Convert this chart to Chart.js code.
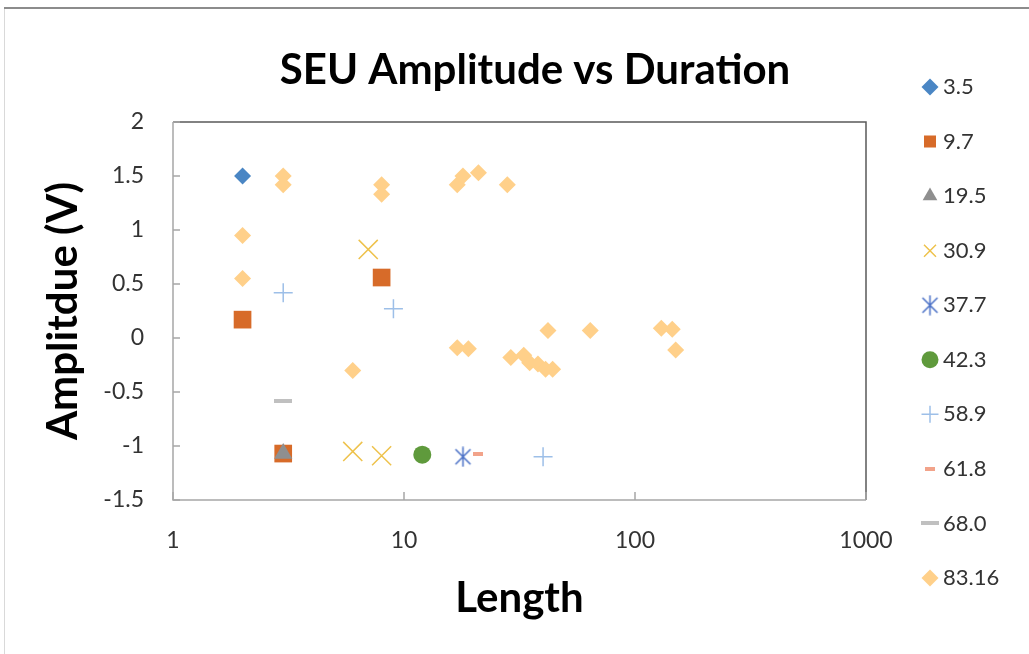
<!DOCTYPE html>
<html>
<head>
<meta charset="utf-8">
<script src="https://cdn.jsdelivr.net/npm/chart.js@4.4.1/dist/chart.umd.min.js"></script>
<style>
html, body { margin: 0; padding: 0; background: #ffffff; }
canvas { display: block; }
</style>
</head>
<body>
<canvas id="c" width="1029" height="654"></canvas>
<script>
// ---------- data ----------
const seriesNames = ['3.5', '9.7', '19.5', '30.9', '37.7', '42.3', '58.9', '61.8', '68.0', '83.16'];

const len_3_5 = [2];
const amp_3_5 = [1.5];

const len_9_7 = [2, 8, 3];
const amp_9_7 = [0.17, 0.56, -1.07];

const len_19_5 = [3];
const amp_19_5 = [-1.07];

const len_30_9 = [7, 6, 8];
const amp_30_9 = [0.82, -1.05, -1.09];

const len_37_7 = [18];
const amp_37_7 = [-1.1];

const len_42_3 = [12];
const amp_42_3 = [-1.08];

const len_58_9 = [3, 9, 40];
const amp_58_9 = [0.42, 0.27, -1.1];

const len_61_8 = [21];
const amp_61_8 = [-1.07];

const len_68_0 = [3];
const amp_68_0 = [-0.58];

const len_83_16 = [2, 2, 3, 3, 8, 8, 17, 18, 21, 28, 6, 17, 19, 29, 33, 35, 38, 41, 44, 42, 64, 130, 145, 150];
const amp_83_16 = [0.95, 0.55, 1.5, 1.42, 1.42, 1.33, 1.42, 1.5, 1.53, 1.42, -0.3, -0.09, -0.1, -0.18, -0.16, -0.23, -0.24, -0.29, -0.29, 0.07, 0.07, 0.09, 0.08, -0.11];

const xTickValues = [1, 10, 100, 1000];
const xTickLabels = ['1', '10', '100', '1000'];
const yTickValues = [-1.5, -1, -0.5, 0, 0.5, 1, 1.5, 2];
const yTickLabels = ['-1.5', '-1', '-0.5', '0', '0.5', '1', '1.5', '2'];

const titleText = 'SEU Amplitude vs Duration';
const xTitleText = 'Length';
const yTitleText = 'Amplitdue (V)';

// ---------- styling ----------
const FONT = 'Lato, "Open Sans", sans-serif';
const TICK_FONT = { family: FONT, size: 23 };
const BIG_FONT = { family: FONT, size: 42, weight: 'bold', lineHeight: 1.2 };

function toPoints(xs, ys) { return xs.map((x, i) => ({ x: x, y: ys[i] })); }

function makeAsterisk(color) {
  const c = document.createElement('canvas');
  c.width = 21; c.height = 21;
  const g = c.getContext('2d');
  g.strokeStyle = color; g.lineWidth = 1.5;
  g.beginPath();
  g.moveTo(3, 3); g.lineTo(18, 18);
  g.moveTo(18, 3); g.lineTo(3, 18);
  g.moveTo(10.5, 0.5); g.lineTo(10.5, 20.5);
  g.stroke();
  return c;
}
function makeDash(w, h, color) {
  const c = document.createElement('canvas');
  c.width = w; c.height = h;
  const g = c.getContext('2d');
  g.fillStyle = color; g.fillRect(0, 0, w, h);
  return c;
}

const styles = [
  { pointStyle: 'rectRot', radius: 8.5, bg: '#4a86c4', bc: '#4a86c4', bw: 0 },
  { pointStyle: 'rect', radius: 12.5, bg: '#d76b29', bc: '#d76b29', bw: 0 },
  { pointStyle: 'triangle', radius: 10.5, bg: '#8f8f8f', bc: '#8f8f8f', bw: 0 },
  { pointStyle: 'crossRot', radius: 13.5, bg: '#eec24c', bc: '#eec24c', bw: 1.5 },
  { pointStyle: makeAsterisk('#4a70c6'), radius: 10, bg: '#4a70c6', bc: '#4a70c6', bw: 1.5 },
  { pointStyle: 'circle', radius: 9, bg: '#5f9a3c', bc: '#5f9a3c', bw: 0 },
  { pointStyle: 'cross', radius: 9.5, bg: '#9dbfe8', bc: '#9dbfe8', bw: 1.5 },
  { pointStyle: makeDash(10, 4, '#f2a38a'), radius: 5, bg: '#f2a38a', bc: '#f2a38a', bw: 0 },
  { pointStyle: makeDash(18, 4, '#c0c0c0'), radius: 9, bg: '#c0c0c0', bc: '#c0c0c0', bw: 0 },
  { pointStyle: 'rectRot', radius: 8.5, bg: '#ffd08a', bc: '#ffd08a', bw: 0 }
];

const seriesData = [
  toPoints(len_3_5, amp_3_5),
  toPoints(len_9_7, amp_9_7),
  toPoints(len_19_5, amp_19_5),
  toPoints(len_30_9, amp_30_9),
  toPoints(len_37_7, amp_37_7),
  toPoints(len_42_3, amp_42_3),
  toPoints(len_58_9, amp_58_9),
  toPoints(len_61_8, amp_61_8),
  toPoints(len_68_0, amp_68_0),
  toPoints(len_83_16, amp_83_16)
];

const datasets = seriesNames.map((name, i) => ({
  label: name,
  data: seriesData[i],
  showLine: false,
  order: -i,
  pointStyle: styles[i].pointStyle,
  pointRadius: styles[i].radius,
  pointHoverRadius: styles[i].radius,
  backgroundColor: styles[i].bg,
  borderColor: styles[i].bc,
  borderWidth: styles[i].bw,
  pointBorderWidth: styles[i].bw
}));

// layout targets (pixels)
const LEGEND_W = 163;       // legend box width -> plot right edge at 866
const LEGEND_ITEM_X = 928;  // left of legend items
const TITLE_SHIFT = 15.5;   // Excel centres the title a bit right of the plot centre

const layoutPlugin = {
  id: 'layoutPlugin',
  beforeLayout(chart) {
    const lg = chart.legend;
    if (lg && !lg._fixedW) {
      const f = lg.fit;
      lg.fit = function () { f.call(this); this.width = LEGEND_W; };
      lg._fixedW = true;
    }
  },
  afterLayout(chart) {
    if (chart.titleBlock) {
      chart.titleBlock.left += TITLE_SHIFT;
      chart.titleBlock.right += TITLE_SHIFT;
    }
    const lg = chart.legend;
    if (lg) {
      const pad = lg.options.labels.padding;
      const dx = LEGEND_ITEM_X - (lg.left + pad);
      lg.left += dx; lg.right += dx;
    }
  },
  beforeDraw(chart) {
    const ctx = chart.ctx;
    ctx.save();
    ctx.fillStyle = '#ffffff';
    ctx.fillRect(0, 0, chart.width, chart.height);
    ctx.strokeStyle = '#d9d9d9'; ctx.lineWidth = 1;
    ctx.beginPath(); ctx.moveTo(4.5, 8); ctx.lineTo(4.5, chart.height); ctx.stroke();
    ctx.strokeStyle = '#8c8c8c'; ctx.lineWidth = 2;
    ctx.beginPath(); ctx.moveTo(4, 8); ctx.lineTo(chart.width, 8); ctx.stroke();
    ctx.restore();
  },
  beforeDatasetsDraw(chart) {
    const ctx = chart.ctx;
    const a = chart.chartArea;
    const xs = chart.scales.x, ys = chart.scales.y;
    ctx.save();
    ctx.lineWidth = 1.5;
    ctx.strokeStyle = '#5a5a5a';
    ctx.beginPath(); ctx.moveTo(a.left, a.top); ctx.lineTo(a.right, a.top); ctx.lineTo(a.right, a.bottom); ctx.stroke();
    ctx.strokeStyle = '#a6a6a6';
    ctx.beginPath(); ctx.moveTo(a.left, a.top); ctx.lineTo(a.left, a.bottom); ctx.lineTo(a.right, a.bottom); ctx.stroke();
    ctx.beginPath();
    yTickValues.forEach(v => { const p = ys.getPixelForValue(v); ctx.moveTo(a.left, p); ctx.lineTo(a.left + 7, p); });
    xTickValues.forEach(v => { const p = xs.getPixelForValue(v); ctx.moveTo(p, a.bottom); ctx.lineTo(p, a.bottom - 8); });
    ctx.stroke();
    ctx.restore();
  }
};

new Chart(document.getElementById('c'), {
  type: 'scatter',
  data: { datasets: datasets },
  plugins: [layoutPlugin],
  options: {
    responsive: false,
    animation: false,
    events: [],
    devicePixelRatio: 1,
    layout: { padding: { top: 11, left: 0, right: 0, bottom: 0 } },
    plugins: {
      tooltip: { enabled: false },
      title: {
        display: true,
        text: titleText,
        fullSize: false,
        color: '#000000',
        font: BIG_FONT,
        padding: { top: 33.8, bottom: 26.8 }
      },
      legend: {
        display: true,
        position: 'right',
        align: 'center',
        labels: {
          usePointStyle: true,
          boxWidth: 4,
          boxHeight: 12,
          padding: 32.56,
          color: '#333333',
          font: { family: FONT, size: 22 },
          sort: (a, b) => a.datasetIndex - b.datasetIndex
        }
      }
    },
    scales: {
      x: {
        type: 'logarithmic',
        position: 'bottom',
        min: 1,
        max: 1000,
        grid: { display: false, drawTicks: false },
        border: { display: false },
        afterBuildTicks: s => { s.ticks = xTickValues.map(v => ({ value: v, major: true })); },
        afterFit: s => { s.height = 154; },
        ticks: {
          autoSkip: false,
          maxRotation: 0,
          padding: 27,
          color: '#333333',
          font: TICK_FONT,
          callback: (v, i) => xTickLabels[i]
        },
        title: {
          display: true,
          text: xTitleText,
          color: '#000000',
          font: BIG_FONT,
          padding: { top: 0, bottom: 30 }
        }
      },
      y: {
        type: 'linear',
        position: 'left',
        min: -1.5,
        max: 2,
        grid: { display: false, drawTicks: false },
        border: { display: false },
        afterBuildTicks: s => { s.ticks = yTickValues.map(v => ({ value: v })); },
        afterFit: s => { s.width = 173; },
        ticks: {
          autoSkip: false,
          padding: 29,
          color: '#333333',
          font: TICK_FONT,
          callback: (v, i) => yTickLabels[i]
        },
        title: {
          display: true,
          text: yTitleText,
          color: '#000000',
          font: BIG_FONT,
          padding: { top: 38, bottom: 0 }
        }
      }
    }
  }
});
</script>
</body>
</html>
